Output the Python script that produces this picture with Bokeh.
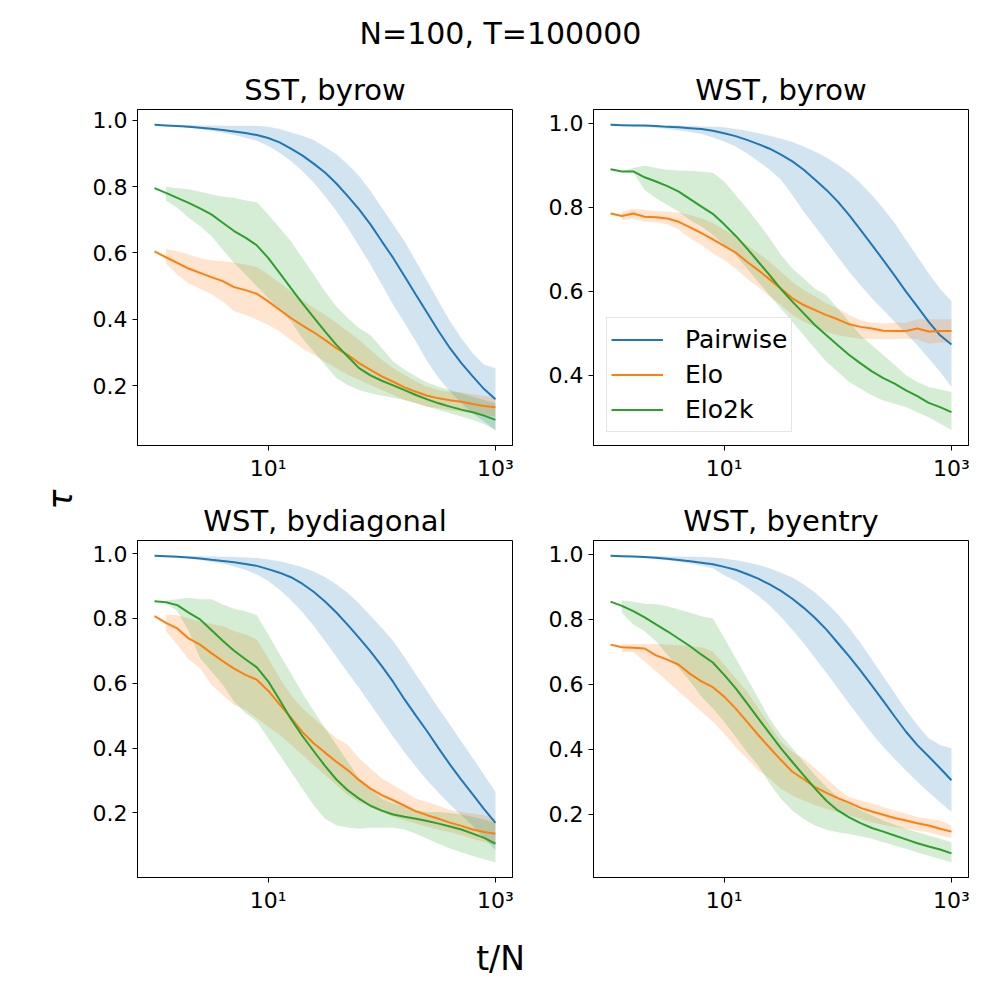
import numpy as np
from bokeh.plotting import figure
from bokeh.layouts import column, row
from bokeh.models import (Range1d, FixedTicker, PrintfTickFormatter, CustomJSTickFormatter,
                          Label, Legend, LegendItem)
from bokeh.embed import file_html
from bokeh.resources import INLINE

# ---------------- data ----------------
# sample positions t/N (0.1-decade steps)
x_tn = [1.0, 1.259, 1.585, 1.995, 2.512, 3.162, 3.981, 5.012, 6.310, 7.943,
        10.0, 12.59, 15.85, 19.95, 25.12, 31.62, 39.81, 50.12, 63.10, 79.43,
        100.0, 125.9, 158.5, 199.5, 251.2, 316.2, 398.1, 501.2, 631.0, 794.3, 1000.0]
# bands (mean +/- spread) start at the second sample
x_band = x_tn[1:]

methods = ["Pairwise", "Elo", "Elo2k"]
titles = ["SST, byrow", "WST, byrow", "WST, bydiagonal", "WST, byentry"]

# --- SST, byrow ---
sst_row_pair = [0.986,0.984,0.982,0.980,0.977,0.974,0.970,0.966,0.961,0.955,0.946,0.933,0.914,0.894,0.869,0.842,0.809,0.771,0.731,0.686,0.635,0.585,0.530,0.474,0.419,0.364,0.313,0.268,0.228,0.190,0.159]
sst_row_pair_hi = [0.985,0.985,0.985,0.984,0.984,0.983,0.983,0.983,0.983,0.980,0.973,0.963,0.953,0.940,0.919,0.897,0.867,0.832,0.787,0.736,0.686,0.635,0.575,0.515,0.454,0.394,0.343,0.298,0.263,0.253]
sst_row_pair_lo = [0.984,0.981,0.978,0.973,0.968,0.962,0.955,0.947,0.938,0.922,0.902,0.877,0.847,0.812,0.771,0.726,0.676,0.620,0.565,0.505,0.444,0.389,0.333,0.273,0.223,0.183,0.147,0.117,0.092,0.066]
sst_row_elo = [0.605,0.587,0.570,0.553,0.540,0.527,0.515,0.497,0.488,0.477,0.454,0.429,0.404,0.382,0.361,0.338,0.313,0.293,0.268,0.248,0.228,0.212,0.195,0.182,0.170,0.162,0.156,0.152,0.145,0.139,0.135]
sst_row_elo_hi = [0.612,0.605,0.595,0.585,0.577,0.575,0.571,0.565,0.558,0.535,0.510,0.484,0.459,0.434,0.414,0.389,0.364,0.338,0.308,0.278,0.253,0.233,0.213,0.197,0.187,0.182,0.180,0.174,0.169,0.164]
sst_row_elo_lo = [0.568,0.535,0.508,0.492,0.476,0.454,0.424,0.414,0.399,0.384,0.364,0.338,0.313,0.293,0.273,0.253,0.233,0.218,0.202,0.187,0.172,0.157,0.147,0.137,0.132,0.127,0.122,0.117,0.112,0.107]
sst_row_elo2k = [0.795,0.781,0.766,0.751,0.734,0.716,0.691,0.666,0.646,0.623,0.585,0.540,0.494,0.449,0.406,0.364,0.323,0.288,0.253,0.231,0.215,0.201,0.187,0.172,0.159,0.147,0.137,0.128,0.120,0.110,0.097]
sst_row_elo2k_hi = [0.799,0.795,0.792,0.784,0.776,0.769,0.766,0.758,0.753,0.716,0.676,0.635,0.585,0.535,0.484,0.439,0.404,0.374,0.353,0.313,0.273,0.248,0.228,0.210,0.197,0.187,0.177,0.167,0.157,0.147]
sst_row_elo2k_lo = [0.758,0.736,0.706,0.681,0.651,0.610,0.570,0.535,0.499,0.464,0.429,0.394,0.343,0.303,0.263,0.223,0.202,0.187,0.177,0.170,0.164,0.157,0.147,0.137,0.127,0.117,0.107,0.097,0.085,0.066]

# --- WST, byrow ---
wst_row_pair = [0.996,0.995,0.994,0.994,0.993,0.991,0.990,0.988,0.986,0.982,0.976,0.969,0.960,0.950,0.939,0.925,0.909,0.889,0.865,0.841,0.813,0.781,0.746,0.710,0.674,0.637,0.599,0.563,0.527,0.495,0.473]
wst_row_pair_hi = [0.996,0.996,0.995,0.995,0.994,0.994,0.993,0.992,0.991,0.990,0.986,0.982,0.976,0.970,0.963,0.955,0.944,0.932,0.918,0.901,0.881,0.857,0.829,0.797,0.762,0.722,0.682,0.642,0.606,0.576]
wst_row_pair_lo = [0.994,0.993,0.991,0.989,0.986,0.983,0.979,0.974,0.966,0.956,0.944,0.928,0.909,0.889,0.865,0.829,0.789,0.754,0.718,0.682,0.646,0.614,0.583,0.555,0.527,0.499,0.471,0.440,0.408,0.372]
wst_row_elo = [0.785,0.779,0.785,0.777,0.776,0.773,0.765,0.752,0.738,0.723,0.708,0.692,0.670,0.650,0.628,0.606,0.583,0.567,0.555,0.543,0.533,0.521,0.515,0.511,0.506,0.505,0.505,0.511,0.504,0.505,0.505]
wst_row_elo_hi = [0.789,0.796,0.793,0.791,0.789,0.787,0.781,0.773,0.762,0.746,0.730,0.710,0.690,0.670,0.646,0.622,0.603,0.587,0.571,0.559,0.543,0.531,0.525,0.523,0.525,0.525,0.533,0.533,0.533,0.533]
wst_row_elo_lo = [0.769,0.772,0.765,0.764,0.759,0.746,0.726,0.710,0.690,0.674,0.654,0.630,0.610,0.587,0.567,0.543,0.527,0.515,0.503,0.495,0.491,0.487,0.486,0.486,0.486,0.487,0.486,0.475,0.478,0.478]
wst_row_elo2k = [0.890,0.885,0.885,0.871,0.861,0.850,0.837,0.819,0.801,0.784,0.759,0.732,0.702,0.670,0.638,0.605,0.575,0.547,0.519,0.495,0.471,0.448,0.428,0.409,0.393,0.380,0.364,0.350,0.334,0.324,0.312]
wst_row_elo2k_hi = [0.885,0.893,0.899,0.893,0.889,0.887,0.886,0.885,0.882,0.861,0.829,0.797,0.762,0.726,0.686,0.654,0.630,0.606,0.590,0.559,0.527,0.495,0.471,0.448,0.424,0.400,0.384,0.372,0.366,0.360]
wst_row_elo2k_lo = [0.885,0.883,0.841,0.821,0.805,0.789,0.769,0.754,0.734,0.710,0.686,0.654,0.622,0.590,0.559,0.527,0.495,0.463,0.432,0.408,0.384,0.368,0.352,0.340,0.332,0.324,0.312,0.300,0.285,0.269]

# --- WST, bydiagonal ---
wst_diag_pair = [0.993,0.992,0.990,0.988,0.985,0.981,0.977,0.973,0.968,0.962,0.952,0.941,0.927,0.907,0.882,0.852,0.818,0.780,0.740,0.698,0.653,0.604,0.550,0.500,0.451,0.399,0.349,0.302,0.257,0.212,0.169]
wst_diag_pair_hi = [0.993,0.993,0.992,0.992,0.991,0.990,0.989,0.988,0.986,0.982,0.976,0.968,0.958,0.945,0.928,0.905,0.878,0.846,0.808,0.770,0.730,0.680,0.627,0.575,0.522,0.472,0.420,0.369,0.317,0.265]
wst_diag_pair_lo = [0.991,0.988,0.985,0.980,0.975,0.969,0.960,0.950,0.935,0.915,0.888,0.857,0.820,0.777,0.730,0.682,0.633,0.585,0.535,0.485,0.435,0.387,0.342,0.300,0.262,0.226,0.193,0.160,0.123,0.085]
wst_diag_elo = [0.807,0.786,0.769,0.738,0.719,0.693,0.668,0.645,0.626,0.611,0.577,0.535,0.494,0.450,0.415,0.386,0.358,0.332,0.301,0.275,0.255,0.239,0.222,0.205,0.193,0.182,0.170,0.160,0.149,0.141,0.136]
wst_diag_elo_hi = [0.812,0.810,0.800,0.791,0.783,0.776,0.761,0.750,0.735,0.678,0.616,0.564,0.523,0.492,0.461,0.430,0.410,0.368,0.337,0.306,0.286,0.265,0.244,0.234,0.222,0.209,0.203,0.198,0.193,0.182]
wst_diag_elo_lo = [0.761,0.719,0.673,0.647,0.595,0.564,0.533,0.518,0.492,0.466,0.441,0.410,0.379,0.348,0.317,0.286,0.255,0.234,0.219,0.203,0.188,0.177,0.167,0.157,0.148,0.141,0.131,0.120,0.110,0.100]
wst_diag_elo2k = [0.853,0.850,0.841,0.818,0.797,0.764,0.731,0.700,0.674,0.649,0.606,0.549,0.490,0.438,0.391,0.345,0.303,0.270,0.244,0.222,0.207,0.195,0.188,0.182,0.175,0.167,0.158,0.149,0.136,0.123,0.105]
wst_diag_elo2k_hi = [0.855,0.859,0.864,0.859,0.859,0.843,0.830,0.822,0.810,0.750,0.690,0.630,0.570,0.515,0.461,0.410,0.358,0.306,0.275,0.244,0.229,0.219,0.208,0.203,0.203,0.200,0.195,0.188,0.180,0.167]
wst_diag_elo2k_lo = [0.848,0.822,0.761,0.678,0.637,0.595,0.544,0.508,0.482,0.430,0.379,0.327,0.275,0.224,0.182,0.162,0.155,0.151,0.154,0.154,0.154,0.149,0.136,0.120,0.105,0.090,0.079,0.067,0.057,0.048]

# --- WST, byentry ---
wst_entry_pair = [0.995,0.994,0.993,0.991,0.989,0.986,0.982,0.978,0.974,0.969,0.961,0.952,0.939,0.925,0.907,0.887,0.863,0.835,0.804,0.768,0.727,0.686,0.642,0.596,0.549,0.501,0.454,0.413,0.378,0.342,0.305]
wst_entry_pair_hi = [0.995,0.995,0.994,0.994,0.993,0.993,0.992,0.991,0.990,0.987,0.981,0.975,0.967,0.957,0.943,0.928,0.907,0.882,0.851,0.815,0.773,0.727,0.676,0.624,0.573,0.521,0.475,0.434,0.413,0.403]
wst_entry_pair_lo = [0.993,0.991,0.988,0.985,0.981,0.977,0.971,0.965,0.957,0.935,0.918,0.897,0.872,0.842,0.807,0.768,0.726,0.681,0.635,0.588,0.540,0.494,0.449,0.408,0.370,0.335,0.300,0.268,0.237,0.207]
wst_entry_elo = [0.722,0.714,0.712,0.710,0.689,0.676,0.660,0.632,0.609,0.591,0.562,0.526,0.485,0.444,0.405,0.367,0.331,0.308,0.284,0.266,0.250,0.236,0.220,0.209,0.199,0.189,0.181,0.173,0.166,0.156,0.147]
wst_entry_elo_hi = [0.724,0.724,0.724,0.724,0.722,0.720,0.717,0.714,0.701,0.660,0.619,0.578,0.526,0.475,0.423,0.392,0.372,0.341,0.310,0.279,0.253,0.243,0.233,0.222,0.212,0.202,0.192,0.186,0.181,0.166]
wst_entry_elo_lo = [0.699,0.699,0.670,0.640,0.609,0.578,0.547,0.516,0.485,0.449,0.408,0.372,0.336,0.310,0.279,0.258,0.243,0.228,0.217,0.207,0.197,0.186,0.176,0.168,0.161,0.156,0.150,0.145,0.135,0.127]
wst_entry_elo2k = [0.854,0.841,0.825,0.806,0.784,0.763,0.740,0.717,0.691,0.667,0.629,0.588,0.542,0.495,0.449,0.403,0.361,0.320,0.279,0.242,0.212,0.191,0.173,0.158,0.147,0.135,0.123,0.111,0.101,0.092,0.080]
wst_entry_elo2k_hi = [0.858,0.854,0.848,0.846,0.840,0.830,0.820,0.809,0.802,0.743,0.681,0.619,0.557,0.495,0.444,0.403,0.361,0.320,0.284,0.253,0.233,0.212,0.197,0.181,0.168,0.156,0.145,0.135,0.125,0.114]
wst_entry_elo2k_lo = [0.820,0.784,0.763,0.732,0.691,0.650,0.609,0.562,0.526,0.485,0.439,0.392,0.351,0.295,0.248,0.212,0.186,0.166,0.153,0.145,0.140,0.133,0.125,0.114,0.104,0.094,0.083,0.073,0.063,0.053]

y_ticks = [0.2, 0.4, 0.6, 0.8, 1.0]
x_ticks = [10, 1000]

panels = [
    [(sst_row_pair, sst_row_pair_lo, sst_row_pair_hi),
     (sst_row_elo, sst_row_elo_lo, sst_row_elo_hi),
     (sst_row_elo2k, sst_row_elo2k_lo, sst_row_elo2k_hi)],
    [(wst_row_pair, wst_row_pair_lo, wst_row_pair_hi),
     (wst_row_elo, wst_row_elo_lo, wst_row_elo_hi),
     (wst_row_elo2k, wst_row_elo2k_lo, wst_row_elo2k_hi)],
    [(wst_diag_pair, wst_diag_pair_lo, wst_diag_pair_hi),
     (wst_diag_elo, wst_diag_elo_lo, wst_diag_elo_hi),
     (wst_diag_elo2k, wst_diag_elo2k_lo, wst_diag_elo2k_hi)],
    [(wst_entry_pair, wst_entry_pair_lo, wst_entry_pair_hi),
     (wst_entry_elo, wst_entry_elo_lo, wst_entry_elo_hi),
     (wst_entry_elo2k, wst_entry_elo2k_lo, wst_entry_elo2k_hi)],
]

# ---------------- style ----------------
FONT = "DejaVu Sans"
COLORS = ["#1f77b4", "#ff7f0e", "#2ca02c"]

SUP = CustomJSTickFormatter(code="""
const sup = {"0":"\u2070","1":"\u00b9","2":"\u00b2","3":"\u00b3","4":"\u2074","5":"\u2075",
             "6":"\u2076","7":"\u2077","8":"\u2078","9":"\u2079","-":"\u207b"};
const e = Math.round(Math.log10(tick));
return "10" + String(e).split("").map(c => sup[c]).join("");
""")


def make_panel(title, series, width, height, bl, br, bt, bb, legend=False):
    allv = np.concatenate([np.asarray(a, float) for s in series for a in s])
    vmin, vmax = allv.min(), allv.max()
    pad = 0.05 * (vmax - vmin)
    xs = np.asarray(x_tn)
    span = xs[-1] / xs[0]
    p = figure(width=width, height=height, x_axis_type="log",
               x_range=Range1d(xs[0] / span ** 0.05, xs[-1] * span ** 0.05),
               y_range=Range1d(vmin - pad, vmax + pad),
               output_backend="svg", toolbar_location=None, title=title,
               min_border_left=bl, min_border_right=br,
               min_border_top=bt, min_border_bottom=bb)
    p.title.align = "center"
    p.title.text_font = FONT
    p.title.text_font_size = "29px"
    p.title.text_font_style = "normal"
    p.title.text_color = "black"
    p.title.standoff = 5
    p.grid.visible = False
    p.outline_line_color = "black"
    p.outline_line_width = 1
    p.outline_line_alpha = 1
    p.background_fill_color = "white"
    p.border_fill_color = "white"
    for ax in (p.xaxis[0], p.yaxis[0]):
        ax.major_label_text_font = FONT
        ax.major_label_text_font_size = "22px"
        ax.major_label_text_color = "black"
        ax.major_tick_out = 5
        ax.major_tick_in = 0
        ax.major_tick_line_color = "black"
        ax.minor_tick_line_color = None
        ax.axis_line_color = "black"
        ax.major_label_standoff = 5
    p.xaxis[0].ticker = FixedTicker(ticks=x_ticks)
    p.xaxis[0].formatter = SUP
    p.yaxis[0].ticker = FixedTicker(ticks=y_ticks)
    p.yaxis[0].formatter = PrintfTickFormatter(format="%.1f")

    for (m, lo, hi), c in zip(series, COLORS):
        p.varea(x=x_band, y1=lo, y2=hi, fill_color=c, fill_alpha=0.2)
    lines = []
    for (m, lo, hi), c in zip(series, COLORS):
        lines.append(p.line(x_tn, m, line_color=c, line_width=2))

    if legend:
        leg = Legend(items=[LegendItem(label=n, renderers=[r]) for n, r in zip(methods, lines)],
                     location=(13, 13))
        leg.label_text_font = FONT
        leg.label_text_font_size = "25px"
        leg.label_text_color = "black"
        leg.glyph_width = 52
        leg.glyph_height = 35
        leg.label_height = 35
        leg.label_standoff = 22
        leg.spacing = 0
        leg.padding = 4
        leg.margin = 0
        leg.border_line_color = "#cccccc"
        leg.border_line_width = 1
        leg.background_fill_color = "white"
        leg.background_fill_alpha = 0.8
        p.add_layout(leg)
    return p


def text_fig(w, h):
    f = figure(width=w, height=h, x_range=Range1d(0, 1), y_range=Range1d(0, 1),
               output_backend="svg", toolbar_location=None, min_border=0,
               x_axis_location=None, y_axis_location=None)
    f.grid.visible = False
    f.outline_line_color = None
    f.border_fill_color = "white"
    return f


tl = make_panel(titles[0], panels[0], 450, 420, 57, 18, 40, 43)
tr = make_panel(titles[1], panels[1], 462, 420, 63, 24, 40, 43, legend=True)
bl = make_panel(titles[2], panels[2], 450, 439, 57, 18, 52, 50)
br = make_panel(titles[3], panels[3], 462, 439, 63, 24, 52, 50)

HEAD_H, STRIP_W, FOOT_H, ROWS_H = 68, 80, 65, 859
header = text_fig(STRIP_W + 912, HEAD_H)
header.add_layout(Label(x=500 / 992, y=1 - 33 / HEAD_H, text="N=100, T=100000", text_align="center",
                        text_baseline="middle", text_font=FONT, text_font_size="30px",
                        text_color="black"))

strip = text_fig(STRIP_W, ROWS_H)
strip.add_layout(Label(x=60 / STRIP_W, y=1 - (499 - HEAD_H) / ROWS_H, text="\u03c4", text_align="center",
                       text_baseline="middle", text_font=FONT, text_font_size="33px",
                       text_font_style="italic", angle=np.pi / 2, text_color="black"))

footer = text_fig(STRIP_W + 912, FOOT_H)
footer.add_layout(Label(x=500 / 992, y=1 - (958 - HEAD_H - ROWS_H) / FOOT_H, text="t/N", text_align="center",
                        text_baseline="middle", text_font=FONT, text_font_size="33px",
                        text_color="black"))

layout = column(header, row(strip, column(row(tl, tr), row(bl, br))), footer)

open("out.html", "w").write(file_html(layout, INLINE))
